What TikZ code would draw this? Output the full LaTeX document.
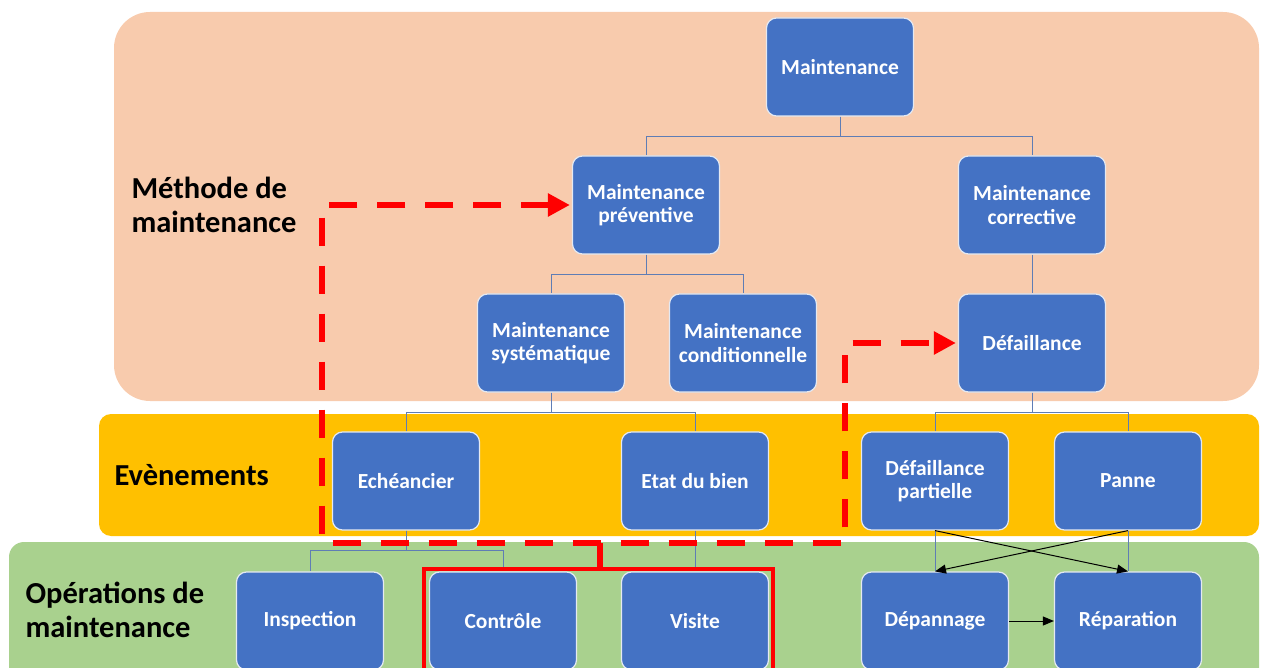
\documentclass[tikz,border=0pt]{standalone}
\usepackage{fontspec}
\setmainfont{Carlito}
\usetikzlibrary{arrows.meta}
\definecolor{peach}{HTML}{F8CBAD}
\definecolor{amber}{HTML}{FFC000}
\definecolor{leaf}{HTML}{A9D18E}
\definecolor{boxblue}{HTML}{4472C4}
\definecolor{boxedge}{HTML}{E4E9F2}
\definecolor{linkblue}{HTML}{5F7DB5}
\definecolor{alert}{HTML}{FF0000}
\begin{document}
\begin{tikzpicture}[x=1pt,y=-1pt,
  box/.style={draw=boxedge, line width=1.2pt, fill=boxblue, rounded corners=10pt,
    minimum width=147pt, minimum height=98pt, inner sep=0pt, align=center,
    text=white, font=\fontsize{21.5}{23.5}\selectfont\bfseries},
  side/.style={anchor=west, align=left, text=black,
    font=\fontsize{30.5}{33.5}\selectfont\bfseries},
  link/.style={draw=linkblue, line width=1pt},
  blackarrow/.style={draw=black, line width=1pt, -{Triangle[length=11pt,width=9pt]}},
  reddash/.style={draw=alert, line width=6pt, dash pattern=on 28pt off 20pt,
    {Triangle[length=22pt,width=22pt]}-{Triangle[length=22pt,width=22pt]}},
  redsolid/.style={draw=alert, line width=4.5pt}]
\clip (0,0) rectangle (1261,668);
\useasboundingbox (0,0) rectangle (1261,668);

% layer bands
\fill[peach, rounded corners=36pt] (114,12) rectangle (1259,401);
\fill[amber, rounded corners=12pt] (99,414) rectangle (1259,536);
\fill[leaf, rounded corners=15pt] (9,542) rectangle (1259,720);

% band titles
\node[side] (lmeth) at (128,205) {Méthode de\\maintenance};
\node[side] (lev) at (111,475) {Evènements};
\node[side] (lops) at (22,610) {Opérations de\\maintenance};

% boxes
\node[box] (m)   at (840,67)   {Maintenance};
\node[box] (pre) at (646,205)  {Maintenance\\préventive};
\node[box] (cor) at (1032,205) {Maintenance\\corrective};
\node[box] (sys) at (551,343)  {Maintenance\\systématique};
\node[box] (con) at (743,343)  {Maintenance\\conditionnelle};
\node[box] (def) at (1032,343) {Défaillance};
\node[box] (ech) at (406,481)  {Echéancier};
\node[box] (eta) at (695,481)  {Etat du bien};
\node[box] (dpa) at (935,481)  {Défaillance\\partielle};
\node[box] (pan) at (1128,481) {Panne};
\node[box] (ins) at (310,621)  {Inspection};
\node[box] (ctl) at (503,621)  {Contrôle};
\node[box] (vis) at (695,621)  {Visite};
\node[box] (dep) at (935,621)  {Dépannage};
\node[box] (rep) at (1128,621) {Réparation};

% tree links
\draw[link] (m.south) -- ++(0,20) -| (pre.north);
\draw[link] (m.south) -- ++(0,20) -| (cor.north);
\draw[link] (pre.south) -- ++(0,20) -| (sys.north);
\draw[link] (pre.south) -- ++(0,20) -| (con.north);
\draw[link] (cor.south) -- (def.north);
\draw[link] (sys.south) -- ++(0,20) -| (ech.north);
\draw[link] (sys.south) -- ++(0,20) -| (eta.north);
\draw[link] (def.south) -- ++(0,20) -| (dpa.north);
\draw[link] (def.south) -- ++(0,20) -| (pan.north);
\draw[link] (ech.south) -- ++(0,20) -| (ins.north);
\draw[link] (ech.south) -- ++(0,20) -| (ctl.north);
\draw[link] (eta.south) -- (vis.north);
\draw[link] (dpa.south) -- (dep.north);
\draw[link] (pan.south) -- (rep.north);

% crossing arrows between events and operations
\draw[blackarrow] (dpa.south) -- (rep.north);
\draw[blackarrow] (pan.south) -- (dep.north);
\draw[blackarrow] (dep.east) -- (rep.west);

% highlighted group and its dashed routing
\coordinate (dl) at (322,543);
\coordinate (dr) at (845,543);
\coordinate (jn) at (600,543);
\coordinate (gtop) at (600,569);
\draw[redsolid] (424,569) rectangle (773,700);
\draw[draw=alert, line width=6pt] (jn) -- (gtop);
\draw[reddash, shorten <=2pt, shorten >=2pt] (pre.west) -| (dl) -- (dr) |- (def.west);
\end{tikzpicture}
\end{document}
